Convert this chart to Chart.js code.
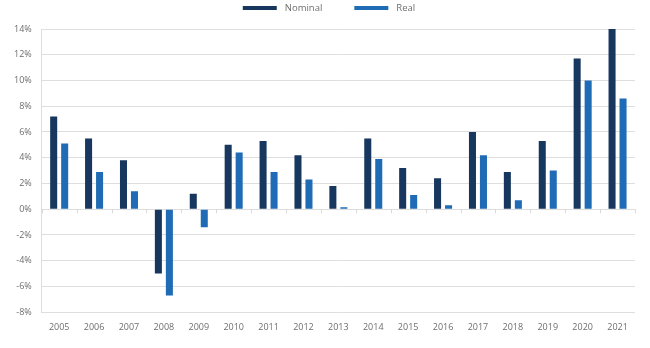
<!DOCTYPE html>
<html>
<head>
<meta charset="utf-8">
<script src="https://cdn.jsdelivr.net/npm/chart.js@4/dist/chart.umd.min.js"></script>
<style>
    html, body { margin: 0; padding: 0; background: #fff; }
    #wrap { width: 650px; height: 348px; }
</style>
</head>
<body>
<div id="wrap"><canvas id="growthChart"></canvas></div>
<script>
// Chart data
const years = ['2005', '2006', '2007', '2008', '2009', '2010', '2011', '2012', '2013',
               '2014', '2015', '2016', '2017', '2018', '2019', '2020', '2021'];
const nominal = [7.2, 5.5, 3.8, -5.0, 1.2, 5.0, 5.3, 4.2, 1.8, 5.5, 3.2, 2.4, 6.0, 2.9, 5.3, 11.7, 14.1];
const real = [5.1, 2.9, 1.4, -6.7, -1.4, 4.4, 2.9, 2.3, 0.15, 3.9, 1.1, 0.3, 4.2, 0.7, 3.0, 10.0, 8.6];
const yMin = -8;
const yMax = 14;
const yStep = 2;

const FONT = "'Open Sans', sans-serif";
const GREY = '#6e6e6e';

// small tick marks along the zero line between categories
const zeroTicks = {
    id: 'zeroTicks',
    afterDatasetsDraw(chart) {
        const x = chart.scales.x;
        const y0 = chart.scales.y.getPixelForValue(0);
        const ctx = chart.ctx;
        ctx.save();
        ctx.strokeStyle = '#d9d9d9';
        ctx.lineWidth = 1;
        ctx.beginPath();
        for (let i = 0; i <= years.length; i++) {
            const px = Math.round(x.left + (x.right - x.left) * i / years.length) + 0.5;
            ctx.moveTo(px, y0);
            ctx.lineTo(px, y0 + 4);
        }
        ctx.stroke();
        ctx.restore();
    }
};

// simple top legend: wide line swatches, big gap between items
const topLegend = {
    id: 'topLegend',
    afterDraw(chart) {
        const ctx = chart.ctx;
        const swatch = 34, textGap = 8, itemGap = 32, y = 8;
        ctx.save();
        ctx.font = '9.5px ' + FONT;
        ctx.textBaseline = 'middle';
        const items = chart.data.datasets.map(ds => ({
            label: ds.label,
            color: ds.backgroundColor,
            width: swatch + textGap + ctx.measureText(ds.label).width
        }));
        const total = items.reduce((s, it) => s + it.width, 0) + itemGap * (items.length - 1);
        let x = chart.width / 2 + 4 - total / 2;
        items.forEach(it => {
            ctx.fillStyle = it.color;
            ctx.fillRect(x, y - 2, swatch, 4);
            ctx.fillStyle = GREY;
            ctx.fillText(it.label, x + swatch + textGap, y);
            x += it.width + itemGap;
        });
        ctx.restore();
    }
};

new Chart(document.getElementById('growthChart'), {
    type: 'bar',
    data: {
        labels: years,
        datasets: [{
            label: 'Nominal',
            data: nominal,
            backgroundColor: '#17375e',
            categoryPercentage: 0.63,
            barPercentage: 0.64
        }, {
            label: 'Real',
            data: real,
            backgroundColor: '#1f6bb5',
            categoryPercentage: 0.63,
            barPercentage: 0.64
        }]
    },
    options: {
        responsive: true,
        maintainAspectRatio: false,
        animation: false,
        layout: { padding: { left: 4, right: 15, top: 29, bottom: 13 } },
        plugins: {
            legend: { display: false },
            tooltip: { enabled: false }
        },
        scales: {
            y: {
                min: yMin,
                max: yMax,
                ticks: {
                    stepSize: yStep,
                    padding: 10,
                    color: GREY,
                    font: { family: FONT, size: 9 },
                    callback: function(value) {
                        return value + '%';
                    }
                },
                grid: { color: '#dedede', drawTicks: false },
                border: { display: true, color: '#dedede' }
            },
            x: {
                ticks: {
                    padding: 2,
                    color: GREY,
                    font: { family: FONT, size: 9 }
                },
                grid: { display: false },
                border: { display: false }
            }
        }
    },
    plugins: [zeroTicks, topLegend]
});
</script>
</body>
</html>
